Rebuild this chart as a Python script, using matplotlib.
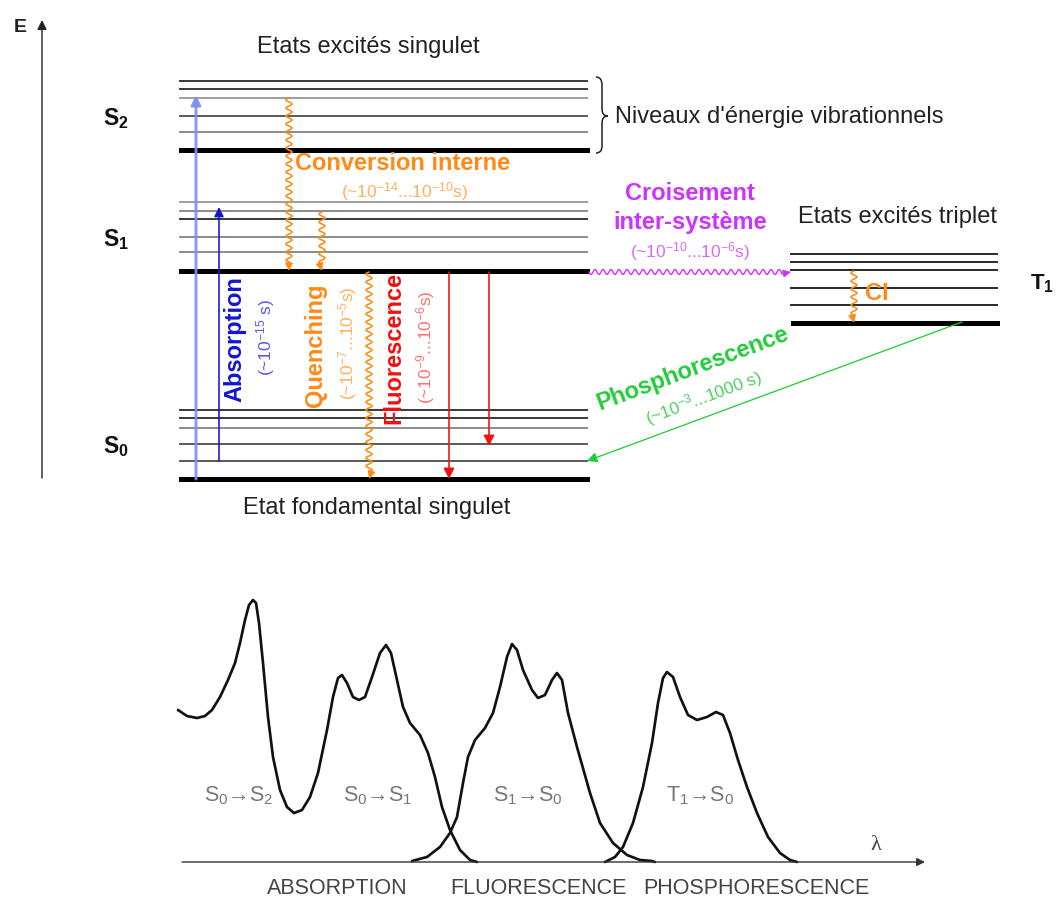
import numpy as np
import matplotlib
matplotlib.use("Agg")
import matplotlib.pyplot as plt
from matplotlib.path import Path
from matplotlib.patches import PathPatch

plt.rcParams['font.family'] = ['Liberation Sans', 'DejaVu Sans']
plt.rcParams['mathtext.fontset'] = 'custom'
plt.rcParams['mathtext.rm'] = 'Liberation Sans'
plt.rcParams['mathtext.it'] = 'Liberation Sans:italic'
plt.rcParams['mathtext.bf'] = 'Liberation Sans:bold'

# ---------------- data ----------------
# vibrational levels (vertical positions on the energy axis, px from top)
s2_levels = [81, 89, 98, 116, 132]
s2_ground = 150
s1_levels = [202, 211, 219, 237, 252]
s1_ground = 271
s0_levels = [410, 418, 428, 444, 461]
s0_ground = 479
t1_levels = [254, 262, 270, 288, 305]
t1_ground = 323

state_labels = ["$\\mathbf{S_2}$", "$\\mathbf{S_1}$", "$\\mathbf{S_0}$"]

# spectra: wavelength position (arb.) and intensity (arb.)
abs_lam = [8, 17, 27, 35, 42, 50, 58, 65, 70, 75, 79, 83, 86, 89, 93, 98, 103, 110,
           117, 124, 132, 140, 148, 157, 163, 168, 172, 177, 183, 189, 195, 202,
           210, 216, 221, 227, 233, 240, 250, 258, 265, 272, 280, 290, 300, 307]
abs_int = [152, 146, 144, 146, 152, 165, 182, 199, 219, 242, 257, 262, 259, 239,
           199, 145, 105, 72, 55, 49, 52, 65, 89, 132, 165, 184, 187, 179, 165, 162,
           165, 185, 209, 217, 209, 182, 155, 139, 127, 109, 85, 55, 32, 12, 2, 0]
flu_lam = [242, 257, 270, 280, 287, 293, 298, 305, 315, 323, 330, 337, 342, 347,
           353, 362, 368, 375, 382, 387, 392, 398, 407, 420, 430, 443, 457, 470,
           482, 485]
flu_int = [1, 5, 15, 29, 45, 79, 105, 122, 134, 149, 175, 205, 218, 212, 192, 172,
           164, 167, 182, 189, 182, 149, 115, 69, 39, 19, 7, 2, 1, 0]
pho_lam = [435, 445, 453, 463, 473, 482, 488, 493, 497, 503, 510, 518, 527, 537,
           546, 553, 560, 568, 577, 587, 598, 610, 620, 627]
pho_int = [0, 5, 15, 39, 75, 119, 159, 184, 190, 185, 165, 147, 142, 145, 150, 147,
           129, 102, 75, 49, 25, 9, 2, 0]

transitions = ["S$_0$\u2192S$_2$", "S$_0$\u2192S$_1$", "S$_1$\u2192S$_0$", "T$_1$\u2192S$_0$"]
spectrum_names = ["ABSORPTION", "FLUORESCENCE", "PHOSPHORESCENCE"]

# ---------------- figure ----------------
W, H = 1056, 899
fig = plt.figure(figsize=(W / 100, H / 100), dpi=100)
ax = fig.add_axes([0, 0, 1, 1])
ax.set_xlim(0, W)
ax.set_ylim(H, 0)
ax.axis('off')

PX = 0.72  # points per pixel
FS = 17

ORANGE = '#ff8a16'
ORANGE_L = '#ffb060'
RED = '#f01010'
RED_L = '#ff7070'
BLUE = '#1515d0'
BLUE_L = '#5a5ae0'
PURPLE = '#cc33ff'
PURPLE_L = '#d56cff'
GREEN = '#22cc3a'
GREEN_L = '#4fcf5f'


def arrow(x0, y0, x1, y1, color, lw, ms=12, alpha=1.0):
    ax.annotate('', xy=(x1, y1), xytext=(x0, y0),
                arrowprops=dict(arrowstyle='-|>', color=color, lw=lw,
                                mutation_scale=ms, shrinkA=0, shrinkB=0,
                                alpha=alpha))


def wavy(x0, y0, x1, y1, color, lw, amp=3.0, period=8.0, head=9, ms=11):
    dx, dy = x1 - x0, y1 - y0
    L = np.hypot(dx, dy)
    ux, uy = dx / L, dy / L
    nx, ny = -uy, ux
    t = np.linspace(0, L - head, int(L * 3))
    off = amp * np.sin(2 * np.pi * t / period)
    xs = x0 + ux * t + nx * off
    ys = y0 + uy * t + ny * off
    ax.plot(xs, ys, color=color, lw=lw, solid_capstyle='round')
    arrow(xs[-1], ys[-1], x1, y1, color, lw, ms=ms)


# energy axis
arrow(42, 478, 42, 20, '#222222', 1.0, ms=14)
ax.text(20, 28, 'E', ha='center', va='center', fontsize=14, fontweight='bold', color='#222')

# levels
shade = ['#333333', '#333333', '#9a9a9a', '#555555', '#8a8a8a']
shade_s1 = ['#9a9a9a', '#8a8a8a', '#333333', '#8a8a8a', '#8a8a8a']
shade_s0 = ['#333333', '#333333', '#8a8a8a', '#555555', '#555555']
for y, c in zip(s2_levels, shade):
    ax.plot([180, 587], [y, y], color=c, lw=1.9 * PX)
for y, c in zip(s1_levels, shade_s1):
    ax.plot([180, 587], [y, y], color=c, lw=1.9 * PX)
for y, c in zip(s0_levels, shade_s0):
    ax.plot([180, 587], [y, y], color=c, lw=1.9 * PX)
for y in t1_levels:
    ax.plot([791, 997], [y, y], color='#222222', lw=1.9 * PX)
for y in (s2_ground, s1_ground, s0_ground):
    ax.plot([181, 587], [y, y], color='black', lw=5 * PX)
ax.plot([793, 997], [t1_ground, t1_ground], color='black', lw=5 * PX)

# state labels
for lab, yb in zip(state_labels, (125, 246, 453)):
    ax.text(103, yb, lab, ha='left', va='baseline', fontsize=16.5, color='#111')
ax.text(1030, 289, "$\\mathbf{T_1}$", ha='left', va='baseline', fontsize=16, color='#111')

# titles
ax.text(368, 47, 'Etats excités singulet', ha='center', va='center', fontsize=FS, color='#222')
ax.text(897, 217, 'Etats excités triplet', ha='center', va='center', fontsize=FS, color='#222')
ax.text(377, 508, 'Etat fondamental singulet', ha='center', va='center', fontsize=FS, color='#222')
ax.text(615, 117, "Niveaux d'énergie vibrationnels", ha='left', va='center', fontsize=FS, color='#222')

# brace
verts = [(596, 77), (602, 77), (602, 85), (602, 109), (602, 116), (608, 116),
         (602, 116), (602, 123), (602, 146), (602, 153), (596, 153)]
codes = [Path.MOVETO, Path.CURVE3, Path.CURVE3, Path.LINETO, Path.CURVE3, Path.CURVE3,
         Path.CURVE3, Path.CURVE3, Path.LINETO, Path.CURVE3, Path.CURVE3]
ax.add_patch(PathPatch(Path(verts, codes), fill=False, lw=1.1, edgecolor='#222'))

# absorption arrows
arrow(196, 479, 196, 95, '#7f8ff0', 3 * PX, ms=14, alpha=0.9)
arrow(219, 461, 219, 207, BLUE, 1.6 * PX, ms=14)
ax.text(235, 339, 'Absorption', rotation=90, ha='center', va='center', fontsize=FS,
        fontweight='bold', color=BLUE)
ax.text(266, 338, '(~10$^{-15}$ s)', rotation=90, ha='center', va='center', fontsize=12.5,
        color=BLUE_L)

# internal conversion
wavy(289, 98, 289, 271, ORANGE, 1.6 * PX)
wavy(322, 212, 322, 271, ORANGE, 1.6 * PX)
ax.text(295, 163, 'Conversion interne', ha='left', va='center', fontsize=FS,
        fontweight='bold', color=ORANGE)
ax.text(404, 192, '(~10$^{-14}$...10$^{-10}$s)', ha='center', va='center', fontsize=12.5,
        color=ORANGE_L)

# quenching
wavy(369, 272, 369, 479, ORANGE, 1.6 * PX)
ax.text(316, 345, 'Quenching', rotation=90, ha='center', va='center', fontsize=FS,
        fontweight='bold', color=ORANGE)
ax.text(348, 343, '(~10$^{-7}$...10$^{-5}$s)', rotation=90, ha='center', va='center',
        fontsize=12.5, color=ORANGE_L)

# fluorescence
arrow(449, 272, 449, 479, RED, 1.6 * PX, ms=16)
arrow(489, 272, 489, 446, RED, 1.6 * PX, ms=16)
ax.text(394, 348, 'Fluorescence', rotation=90, ha='center', va='center', fontsize=FS,
        fontweight='bold', color=RED)
ax.text(426, 347, '(~10$^{-9}$...10$^{-6}$s)', rotation=90, ha='center', va='center',
        fontsize=12.5, color=RED_L)

# intersystem crossing
wavy(589, 272, 791, 272, PURPLE, 1.4 * PX, amp=2.5, period=8)
ax.text(690, 193, 'Croisement', ha='center', va='center', fontsize=FS,
        fontweight='bold', color=PURPLE)
ax.text(690, 222, 'inter-système', ha='center', va='center', fontsize=FS,
        fontweight='bold', color=PURPLE)
ax.text(690, 252, '(~10$^{-10}$...10$^{-6}$s)', ha='center', va='center', fontsize=12.5,
        color=PURPLE_L)

# triplet internal conversion
wavy(854, 271, 854, 323, ORANGE, 1.6 * PX)
ax.text(877, 293, 'CI', ha='center', va='center', fontsize=FS, fontweight='bold', color=ORANGE)

# phosphorescence
arrow(962, 322, 587, 461, GREEN, 1.3 * PX, ms=15)
ax.text(693, 369, 'Phosphorescence', rotation=20.5, ha='center', va='center', fontsize=FS,
        fontweight='bold', color=GREEN, rotation_mode='anchor')
ax.text(704, 398, '(~10$^{-3}$...1000 s)', rotation=20.5, ha='center', va='center',
        fontsize=12.5, color=GREEN_L, rotation_mode='anchor')

# ---------------- spectra ----------------
x0p, x1p, ytop, ybase = 170, 930, 590, 862
ax2 = fig.add_axes([x0p / W, (H - ybase) / H, (x1p - x0p) / W, (ybase - ytop) / H])
ax2.set_xlim(0, x1p - x0p)
ax2.set_ylim(0, ybase - ytop)
ax2.patch.set_alpha(0)
ax2.axis('off')
for lam, inten in ((abs_lam, abs_int), (flu_lam, flu_int), (pho_lam, pho_int)):
    ax2.plot(lam, inten, color='#111111', lw=2.7 * PX, solid_joinstyle='round',
             solid_capstyle='round', clip_on=False)
ax2.annotate('', xy=(755, 0), xytext=(12, 0),
             arrowprops=dict(arrowstyle='-|>', color='#333', lw=1.4 * PX,
                             mutation_scale=12, shrinkA=0, shrinkB=0),
             annotation_clip=False)

ax.text(876, 846, '\u03bb', ha='center', va='center', fontsize=16, color='#444',
        family=['Liberation Serif', 'DejaVu Serif'])
for lab, xc in zip(transitions, (239, 378, 528, 700)):
    ax.text(xc, 801, lab, ha='center', va='baseline', fontsize=15.5, color='#777')
for lab, xc in zip(spectrum_names, (337, 538, 756)):
    ax.text(xc, 889, lab, ha='center', va='center', fontsize=15.5, color='#444')

fig.savefig('out.png', dpi=100)
